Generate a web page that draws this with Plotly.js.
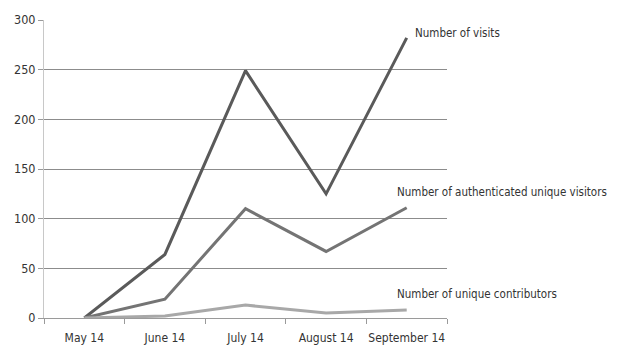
<!DOCTYPE html>
<html>
<head>
<meta charset="utf-8">
<script src="https://cdn.plot.ly/plotly-3.0.1.min.js"></script>
<style>html,body{margin:0;padding:0;background:#fff;}#chart{width:630px;height:350px;}</style>
</head>
<body>
<div id="chart"></div>
<script>
const months = ["May 14", "June 14", "July 14", "August 14", "September 14"];
const visits = [0, 64, 249, 125, 282];
const authVisitors = [0, 19, 110, 67, 111];
const contributors = [0, 2, 13, 5, 8];
const seriesNames = ["Number of visits", "Number of authenticated unique visitors", "Number of unique contributors"];
const yTicks = [0, 50, 100, 150, 200, 250, 300];

const FONT = "'DejaVu Sans Condensed', 'Liberation Sans Narrow', sans-serif";
const colors = ["#5a5a5a", "#747474", "#a8a8a8"];
const seriesData = [visits, authVisitors, contributors];

const traces = seriesData.map((vals, i) => ({
  type: "scatter", mode: "lines", x: months, y: vals, name: seriesNames[i],
  line: {color: colors[i], width: 3}, hoverinfo: "skip"
}));

const labelX = [4.08, 3.86, 3.86];
const labelY = [287, 127, 24];
const annotations = seriesNames.map((n, i) => ({
  text: n, x: labelX[i], y: labelY[i], xref: "x", yref: "y",
  xanchor: "left", yanchor: "middle", showarrow: false,
  font: {family: FONT, size: 11.5, color: "#333"}
}));

const layout = {
  width: 630, height: 350,
  margin: {l: 44, r: 183, t: 20, b: 32},
  paper_bgcolor: "#fff", plot_bgcolor: "#fff",
  showlegend: false,
  xaxis: {
    type: "category", range: [-0.5, 4.5],
    showgrid: false, zeroline: false,
    showline: true, linecolor: "#9a9a9a", linewidth: 1,
    ticks: "outside", ticklen: 5, tickcolor: "#9a9a9a", tickson: "boundaries",
    tickangle: 0, ticklabelstandoff: 9,
    tickfont: {family: FONT, size: 12, color: "#333"}
  },
  yaxis: {
    range: [0, 300], tickvals: yTicks,
    showgrid: true, gridcolor: "#8c8c8c", gridwidth: 1,
    zeroline: false, showline: true, linecolor: "#c8c8c8", linewidth: 1,
    ticks: "outside", ticklen: 5, tickcolor: "#9a9a9a",
    tickfont: {family: FONT, size: 12.5, color: "#333"}
  },
  annotations: annotations
};

Plotly.newPlot("chart", traces, layout, {staticPlot: true, displayModeBar: false});
</script>
</body>
</html>
